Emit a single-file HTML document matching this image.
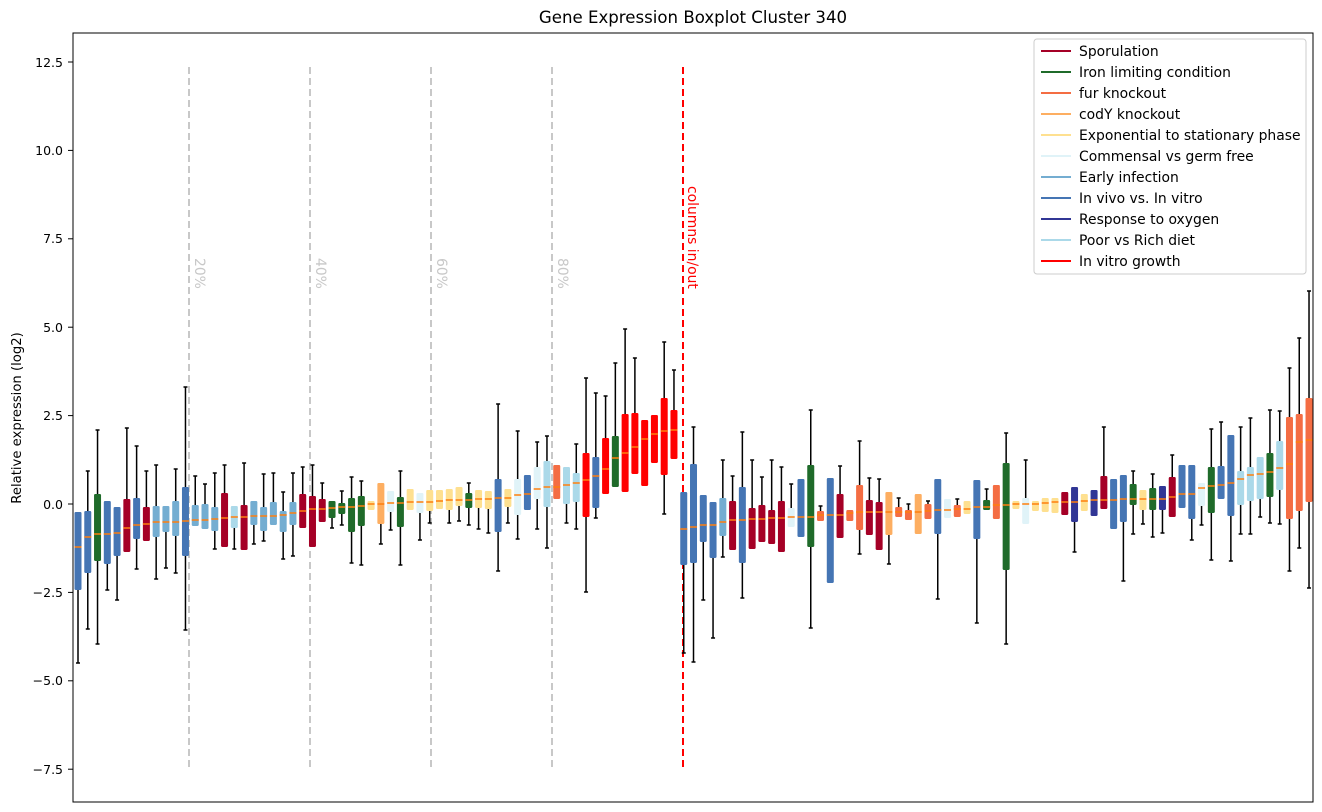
<!DOCTYPE html>
<html><head><meta charset="utf-8"><style>
body{margin:0;background:#fff;}
svg{display:block;font-family:"DejaVu Sans","Liberation Sans",sans-serif;}
</style></head><body>
<svg id="s" width="1322" height="812" viewBox="0 0 1322 812" xmlns="http://www.w3.org/2000/svg">
<rect width="1322" height="812" fill="#fff"/>
<text x="693" y="23" font-size="16.6" text-anchor="middle" fill="#000">Gene Expression Boxplot Cluster 340</text>
<text transform="translate(21,418) rotate(-90)" font-size="13.2" text-anchor="middle">Relative expression (log2)</text>
<g stroke="#000" stroke-width="1">
<line x1="68" y1="62" x2="73" y2="62"/><line x1="68" y1="150.4" x2="73" y2="150.4"/><line x1="68" y1="238.8" x2="73" y2="238.8"/><line x1="68" y1="327.2" x2="73" y2="327.2"/><line x1="68" y1="415.6" x2="73" y2="415.6"/><line x1="68" y1="504" x2="73" y2="504"/><line x1="68" y1="592.4" x2="73" y2="592.4"/><line x1="68" y1="680.8" x2="73" y2="680.8"/><line x1="68" y1="769.2" x2="73" y2="769.2"/>
</g>
<g font-size="12.5" text-anchor="end">
<text x="63" y="67">12.5</text><text x="63" y="155">10.0</text><text x="63" y="243">7.5</text><text x="63" y="332">5.0</text><text x="63" y="420">2.5</text><text x="63" y="509">0.0</text><text x="63" y="597">−2.5</text><text x="63" y="685">−5.0</text><text x="63" y="774">−7.5</text>
</g>
<g stroke="#c8c8c8" stroke-width="2" stroke-dasharray="7,4">
<line x1="189" y1="67" x2="189" y2="769"/><line x1="310" y1="67" x2="310" y2="769"/><line x1="431" y1="67" x2="431" y2="769"/><line x1="552" y1="67" x2="552" y2="769"/>
</g>
<g font-size="13.9" fill="#c8c8c8">
<text transform="translate(195,258) rotate(90)">20%</text>
<text transform="translate(316,258) rotate(90)">40%</text>
<text transform="translate(437,258) rotate(90)">60%</text>
<text transform="translate(558,258) rotate(90)">80%</text>
</g>
<line x1="683" y1="67" x2="683" y2="769" stroke="#ff0000" stroke-width="2" stroke-dasharray="7,4"/>
<text transform="translate(688,186) rotate(90)" font-size="13.9" fill="#ff0000">columns in/out</text>
<g id="boxes"></g>
<rect x="73" y="33" width="1240" height="769" fill="none" stroke="#000" stroke-width="1"/>
<g>
<rect x="1034" y="39" width="272" height="235" fill="#fff" stroke="#ccc" rx="3"/>
<g stroke-width="2">
<line x1="1041" y1="51" x2="1071" y2="51" stroke="#a50026"/>
<line x1="1041" y1="72" x2="1071" y2="72" stroke="#1f6b2a"/>
<line x1="1041" y1="93" x2="1071" y2="93" stroke="#f46d43"/>
<line x1="1041" y1="114" x2="1071" y2="114" stroke="#fdae61"/>
<line x1="1041" y1="135" x2="1071" y2="135" stroke="#fee090"/>
<line x1="1041" y1="156" x2="1071" y2="156" stroke="#e0f3f8"/>
<line x1="1041" y1="177" x2="1071" y2="177" stroke="#74add1"/>
<line x1="1041" y1="198" x2="1071" y2="198" stroke="#4575b4"/>
<line x1="1041" y1="219" x2="1071" y2="219" stroke="#313695"/>
<line x1="1041" y1="240" x2="1071" y2="240" stroke="#abd9e9"/>
<line x1="1041" y1="261" x2="1071" y2="261" stroke="#ff0000"/>
</g>
<g font-size="13.9">
<text x="1079" y="56">Sporulation</text>
<text x="1079" y="77">Iron limiting condition</text>
<text x="1079" y="98">fur knockout</text>
<text x="1079" y="119">codY knockout</text>
<text x="1079" y="140">Exponential to stationary phase</text>
<text x="1079" y="161">Commensal vs germ free</text>
<text x="1079" y="182">Early infection</text>
<text x="1079" y="203">In vivo vs. In vitro</text>
<text x="1079" y="224">Response to oxygen</text>
<text x="1079" y="245">Poor vs Rich diet</text>
<text x="1079" y="266">In vitro growth</text>
</g>
</g>
</svg>
<script>
var C={S:"#a50026",G:"#1f6b2a",F:"#f46d43",O:"#fdae61",Y:"#fee090",M:"#e0f3f8",E:"#74add1",B:"#4575b4",N:"#313695",P:"#abd9e9",R:"#ff0000"};
var D=[
["B",512,590,547,0,663],["B",511,573,537,471,629],["G",494,561,534,430,644],["B",501,564,534,0,590],["B",507,556,533,0,600],
["S",499,552,528,428,0],["B",498,539,525,446,569],["S",507,541,524,471,0],["E",506,537,522,465,579],["E",506,532,522,0,568],
["E",501,536,522,469,573],["B",487,556,521,387,630],["E",505,526,520,476,0],["E",504,529,520,484,0],["E",507,531,519,473,549],
["S",493,547,518,465,0],["P",506,528,517,0,549],["S",505,550,517,463,0],["E",501,525,516,0,544],["E",507,531,516,474,541],
["E",502,525,516,473,0],["E",511,532,515,492,559],["E",502,525,513,473,556],["S",494,528,511,467,0],["S",496,547,509,465,0],
["S",499,522,509,483,0],["G",501,518,508,0,528],["G",503,514,507,491,525],["G",498,532,507,477,563],["G",496,526,506,481,565],
["Y",501,510,504,0,0],["O",483,524,504,0,544],["M",491,512,503,0,530],["G",497,527,503,471,565],["Y",489,510,502,0,0],
["M",493,513,502,0,540],["Y",490,511,502,0,523],["Y",490,509,501,0,0],["Y",489,510,500,0,523],["Y",487,506,500,0,521],
["G",493,508,500,483,525],["Y",490,508,499,0,529],["Y",491,509,499,0,533],["B",479,532,498,404,571],["Y",489,507,498,0,523],
["M",479,515,495,431,539],["B",475,510,494,0,0],["M",467,499,489,442,529],["P",461,507,487,436,548],["F",465,499,487,0,0],
["P",467,504,485,0,523],["P",473,502,483,444,529],["R",453,517,480,378,592],["B",457,508,476,393,518],["R",438,494,469,396,0],
["G",436,487,458,363,0],["R",414,492,453,329,0],["R",413,474,447,358,0],["R",420,486,439,0,0],["R",415,463,434,0,0],
["R",398,475,431,342,514],["R",410,459,430,370,0],["B",492,565,529,0,653],["B",464,563,527,427,662],["B",495,542,525,0,600],
["B",502,558,525,0,638],["E",498,536,522,460,557],["S",501,550,520,476,0],["B",487,563,520,432,598],["S",508,549,519,460,0],
["S",505,542,519,477,0],["S",510,544,518,460,0],["S",501,552,518,467,0],["M",508,527,517,484,0],["B",479,537,517,0,0],
["G",465,547,517,410,628],["F",511,521,515,506,0],["B",478,583,515,0,0],["S",494,538,515,466,0],["F",510,521,513,0,0],
["F",485,530,512,441,554],["S",500,535,512,478,0],["S",502,550,512,479,0],["O",492,535,512,0,564],["F",507,517,512,498,0],
["F",510,520,512,504,0],["O",494,534,512,0,0],["F",504,519,511,501,0],["B",479,534,510,0,599],["M",499,518,510,0,0],
["F",505,517,509,499,0],["Y",501,514,509,0,0],["B",480,539,507,0,623],["G",500,510,507,489,0],["F",485,519,505,0,0],
["G",463,570,505,433,644],["Y",501,509,504,0,0],["M",498,524,504,460,0],["Y",501,511,504,0,0],["Y",498,512,503,0,0],
["Y",498,513,502,0,0],["S",492,515,502,0,0],["N",487,522,502,0,552],["Y",494,511,501,0,0],["N",490,516,500,0,0],
["S",476,509,500,427,0],["B",479,529,500,0,0],["B",475,522,499,0,581],["G",484,505,499,471,534],["Y",490,510,499,0,524],
["G",488,510,499,474,537],["N",486,510,499,0,533],["S",477,517,497,455,0],["B",465,508,494,0,0],["B",465,519,494,0,540],
["M",483,506,488,0,525],["G",467,513,486,429,560],["B",466,499,485,422,0],["B",435,516,483,0,561],["P",471,505,479,427,534],
["P",467,501,475,418,534],["P",457,499,474,0,517],["G",453,497,472,410,523],["P",441,490,468,411,524],["F",417,519,464,368,571],
["F",414,511,442,338,548],["F",398,502,440,291,588]];
var g=document.getElementById("boxes"),h="";
D.forEach(function(d,i){
 var x=78+i*9.77,t=d[1],b=d[2],m=d[3],hi=d[4]||t,lo=d[5]||b;
 if(hi<t){h+='<line x1="'+x+'" y1="'+hi+'" x2="'+x+'" y2="'+t+'" stroke="#000" stroke-width="1.5"/><line x1="'+(x-2)+'" y1="'+hi+'" x2="'+(x+2)+'" y2="'+hi+'" stroke="#000" stroke-width="1.5"/>';}
 if(lo>b){h+='<line x1="'+x+'" y1="'+b+'" x2="'+x+'" y2="'+lo+'" stroke="#000" stroke-width="1.5"/><line x1="'+(x-2)+'" y1="'+lo+'" x2="'+(x+2)+'" y2="'+lo+'" stroke="#000" stroke-width="1.5"/>';}
 h+='<rect x="'+(x-3.5)+'" y="'+t+'" width="7" height="'+(b-t)+'" rx="1.2" fill="'+C[d[0]]+'"/>';
 h+='<line x1="'+(x-3.5)+'" y1="'+m+'" x2="'+(x+3.5)+'" y2="'+m+'" stroke="#ff7f0e" stroke-width="1.5"/>';
});
g.innerHTML=h;
</script>
</body></html>
